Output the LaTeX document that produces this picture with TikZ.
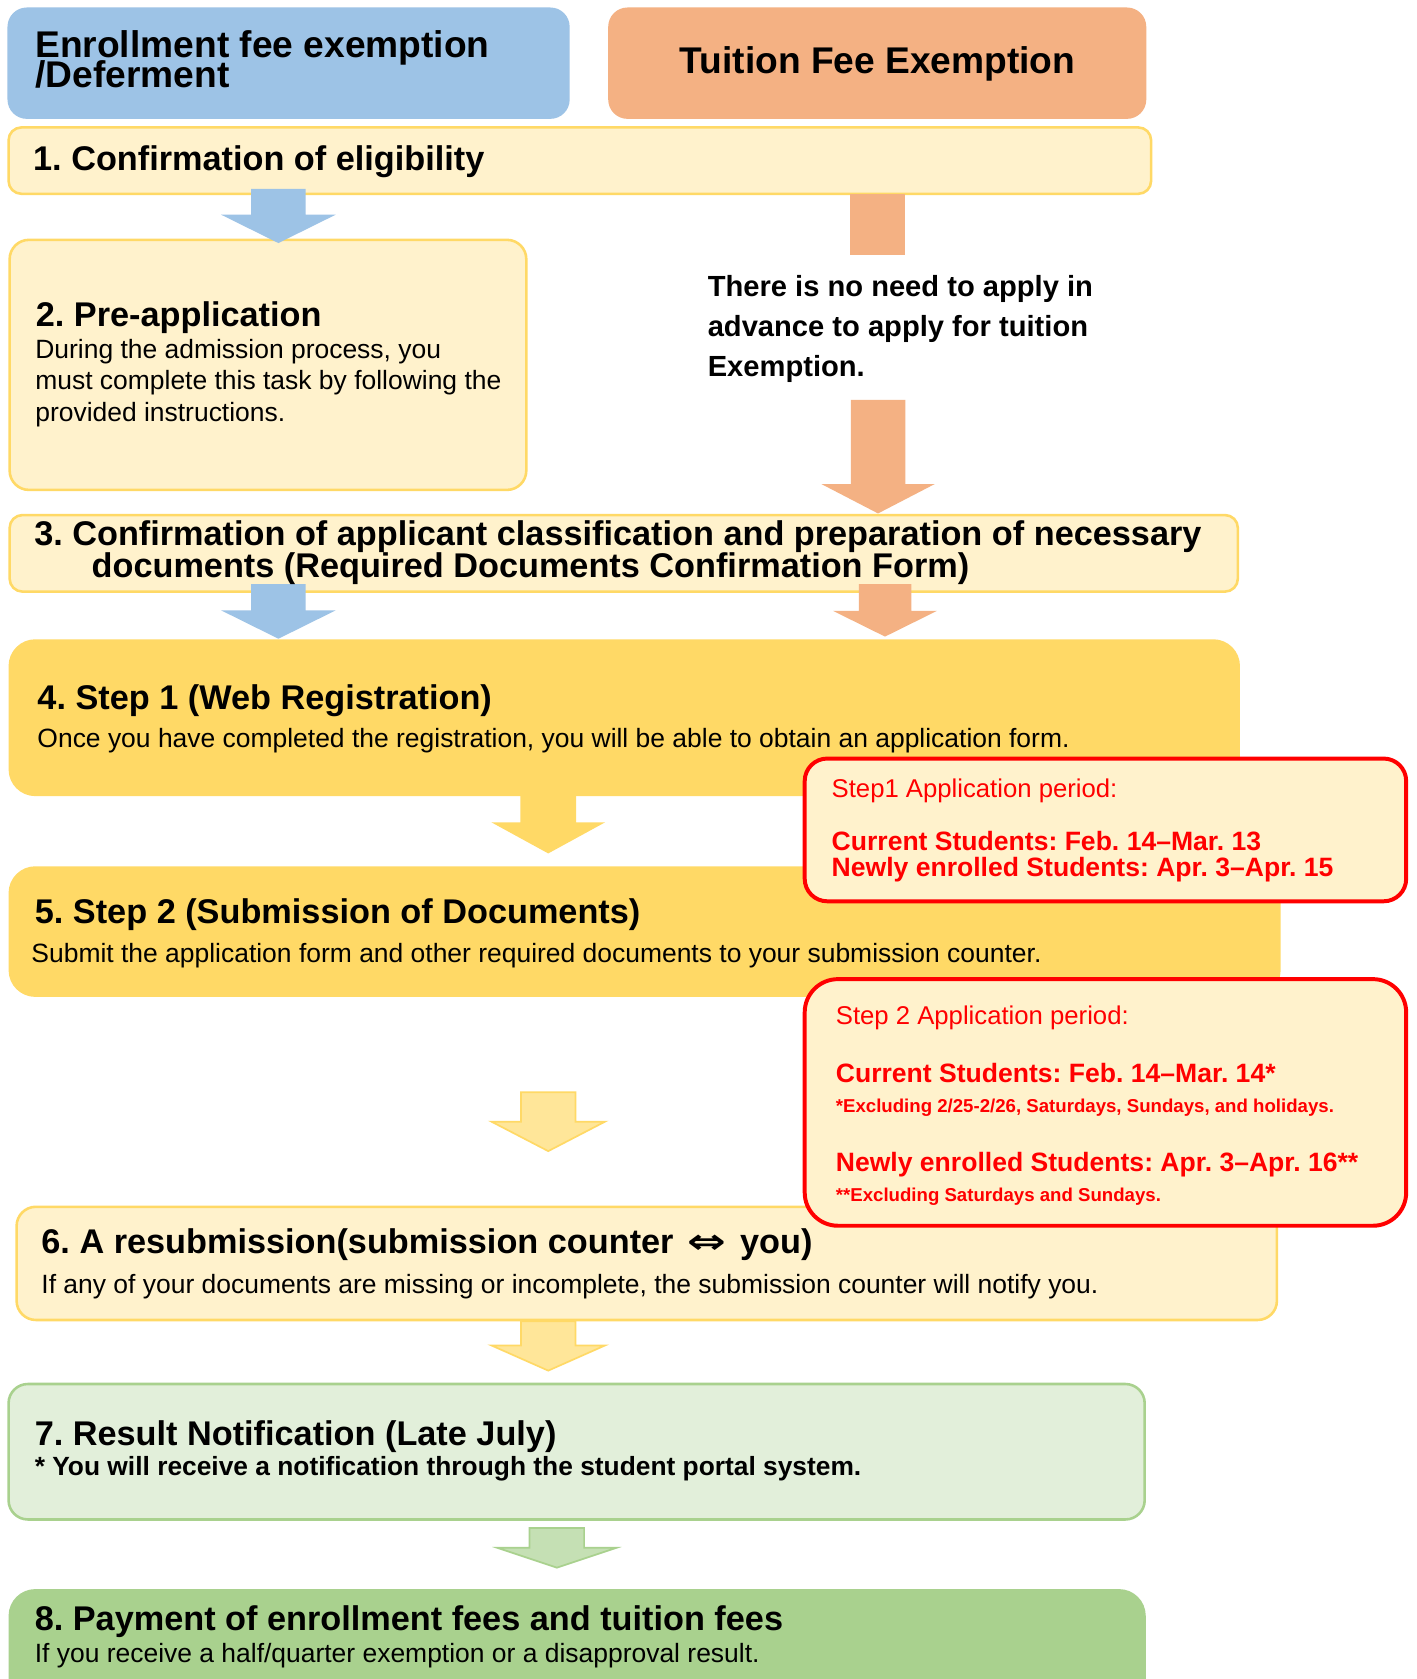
\documentclass[tikz,border=0pt]{standalone}
\usepackage{fontspec}
\setmainfont{Liberation Sans}
\newfontfamily\djv{DejaVu Sans}
\definecolor{blueC}{HTML}{9DC3E6}
\definecolor{orangeC}{HTML}{F4B183}
\definecolor{paleC}{HTML}{FFF2CC}
\definecolor{goldC}{HTML}{FFD966}
\definecolor{lightgoldC}{HTML}{FFE699}
\definecolor{palegreenC}{HTML}{E2EFDA}
\definecolor{greenC}{HTML}{A9D18E}
\definecolor{arrgreenC}{HTML}{C5E0B4}
\definecolor{redC}{HTML}{FF0000}
\newcommand{\BlkArr}[7]{\path[#1] ({#2-#6},#3) -- ({#2+#6},#3) -- ({#2+#6},#4) -- ({#2+#7},#4) -- (#2,#5) -- ({#2-#7},#4) -- ({#2-#6},#4) -- cycle;}
\tikzset{
  boxbase/.style={anchor=north west, inner sep=0pt, outer sep=0pt},
  hdrbox/.style={boxbase, rounded corners=18pt},
  palebox/.style={boxbase, draw=goldC, fill=paleC, line width=2.4pt},
  goldbox/.style={boxbase, fill=goldC, rounded corners=25pt},
  greenbox/.style={boxbase, draw=greenC, fill=palegreenC, line width=2.4pt, rounded corners=18pt},
  redbox/.style={boxbase, draw=redC, fill=paleC, line width=3.7pt},
  lightarr/.style={fill=lightgoldC, draw=goldC, line width=1.6pt},
  greenarr/.style={fill=arrgreenC, draw=greenC, line width=1.6pt},
  txt/.style={anchor=base west, inner sep=0pt, outer sep=0pt},
  hdr/.style={txt, font=\fontsize{34.7}{28.6}\selectfont\bfseries},
  ttl/.style={txt, font=\fontsize{32}{30}\selectfont\bfseries},
  bdy/.style={txt, font=\fontsize{24.7}{30}\selectfont},
  bdyb/.style={txt, font=\fontsize{24.6}{30}\selectfont\bfseries},
  note/.style={txt, font=\fontsize{27.2}{30}\selectfont\bfseries},
  redn/.style={txt, text=redC, font=\fontsize{24}{30}\selectfont},
  redb/.style={txt, text=redC, font=\fontsize{24.8}{30}\selectfont\bfseries},
  reds/.style={txt, text=redC, font=\fontsize{17.4}{20}\selectfont\bfseries},
}
\begin{document}
\frenchspacing
\begin{tikzpicture}[x=1pt,y=-1pt]
\path[use as bounding box, clip] (0,0) rectangle (1322.4,1568);
\fill[white] (0,0) rectangle (1322.4,1568);
% header boxes
\node[hdrbox, fill=blueC, minimum width=525pt, minimum height=104pt] (hL) at (7,7) {};
\node[hdrbox, fill=orangeC, minimum width=502.5pt, minimum height=104pt] (hR) at (568,7) {};
% step boxes
\node[palebox, rounded corners=12pt, minimum width=1067pt, minimum height=62pt] (b1) at (8,119) {};
\node[palebox, rounded corners=18pt, minimum width=482.5pt, minimum height=233.5pt] (b2) at (9,224) {};
\node[palebox, rounded corners=12pt, minimum width=1147pt, minimum height=71.5pt] (b3) at (9,481) {};
\node[goldbox, minimum width=1150pt, minimum height=146.5pt] (b4) at (8,597) {};
\node[goldbox, minimum width=1188pt, minimum height=122pt] (b5) at (8,809) {};
\node[palebox, rounded corners=18pt, minimum width=1177pt, minimum height=105.7pt] (b6) at (15.5,1127) {};
\node[greenbox, minimum width=1061pt, minimum height=126.5pt] (b7) at (8,1292.5) {};
\node[boxbase, fill=greenC, rounded corners=25pt, minimum width=1062pt, minimum height=140pt] (b8) at (8,1484) {};
% arrows
\BlkArr{fill=blueC}{260}{176.5}{200.5}{227}{25.5}{53.5}
\path[fill=orangeC] (794,181) rectangle (845,238);
\BlkArr{fill=orangeC}{820}{373.5}{452}{479.5}{25.5}{53}
\BlkArr{fill=blueC}{260}{545.5}{570}{596.5}{25.5}{53.5}
\BlkArr{fill=orangeC}{826.5}{545.5}{570.5}{594.5}{24.5}{48.5}
\BlkArr{fill=goldC}{512}{743}{768}{797}{26}{53}
\BlkArr{lightarr}{512}{1020}{1047.5}{1075}{25.5}{53}
\BlkArr{lightarr}{512}{1234}{1256.5}{1280}{25.5}{53}
\BlkArr{greenarr}{520}{1427}{1445.5}{1464}{25.5}{55.5}
% red period boxes
\node[redbox, rounded corners=21pt, minimum width=561.7pt, minimum height=133.3pt] (r1) at (751.5,708.4) {};
\node[redbox, rounded corners=31pt, minimum width=561.7pt, minimum height=230.3pt] (r2) at (751.5,914.4) {};
% header texts (base anchor of a two-line node = last line)
\node[hdr, align=left] (tL) at (33,81.6) {Enrollment fee exemption\\[-5pt]/Deferment};
\node[hdr, anchor=base] (tR) at (819.5,69) {Tuition Fee Exemption};
% step 1
\node[ttl] (t1) at (31,159) {1. Confirmation of eligibility};
% step 2
\node[ttl] (t2) at (33.5,304.5) {2. Pre-application};
\node[bdy] (t2a) at (33,334.5) {During the admission process, you};
\node[bdy] (t2b) at (33,364) {must complete this task by following the};
\node[bdy] (t2c) at (33,394) {provided instructions.};
% note
\node[note] (n1) at (661,277) {There is no need to apply in};
\node[note] (n2) at (661,314.4) {advance to apply for tuition};
\node[note] (n3) at (661,351.8) {Exemption.};
% step 3
\node[ttl] (t3a) at (32,509) {3. Confirmation of applicant classification and preparation of necessary};
\node[ttl] (t3b) at (85.6,539) {documents (Required Documents Confirmation Form)};
% step 4
\node[ttl] (t4) at (35,662.4) {4. Step 1 (Web Registration)};
\node[bdy] (t4a) at (35,698.4) {Once you have completed the registration, you will be able to obtain an application form.};
% step 5
\node[ttl] (t5) at (32.6,862) {5. Step 2 (Submission of Documents)};
\node[bdy] (t5a) at (29.4,898.5) {Submit the application form and other required documents to your submission counter.};
% red box 1 texts
\node[redn] (p1) at (776.7,744.4) {Step1 Application period:};
\node[redb] (p1a) at (776.7,794.5) {Current Students: Feb. 14–Mar. 13};
\node[redb] (p1b) at (776.7,818.5) {Newly enrolled Students: Apr. 3–Apr. 15};
% red box 2 texts
\node[redn] (p2) at (780.6,957) {Step 2 Application period:};
\node[redb] (p2a) at (780.6,1011.3) {Current Students: Feb. 14–Mar. 14*};
\node[reds] (p2b) at (780.6,1039.3) {*Excluding 2/25-2/26, Saturdays, Sundays, and holidays.};
\node[redb] (p2c) at (780.6,1094) {Newly enrolled Students: Apr. 3–Apr. 16**};
\begin{scope}
\clip (760,1100) rectangle (1300,1124.5);
\node[reds] (p2d) at (780.6,1122.3) {**Excluding Saturdays and Sundays.};
\end{scope}
% step 6
\node[ttl] (t6) at (38.7,1170.5) {6. A resubmission(submission counter\hspace{13pt}\scalebox{1.35}[1]{\djv ⇔}\hspace{13pt}you)};
\node[bdy] (t6a) at (38.7,1207.8) {If any of your documents are missing or incomplete, the submission counter will notify you.};
% step 7
\node[ttl] (t7) at (32.5,1349.5) {7. Result Notification (Late July)};
\node[bdyb] (t7a) at (32.5,1377.5) {* You will receive a notification through the student portal system.};
% step 8
\node[ttl] (t8) at (32.5,1523) {8. Payment of enrollment fees and tuition fees};
\node[bdy] (t8a) at (32.5,1552.8) {If you receive a half/quarter exemption or a disapproval result.};
\end{tikzpicture}
\end{document}
